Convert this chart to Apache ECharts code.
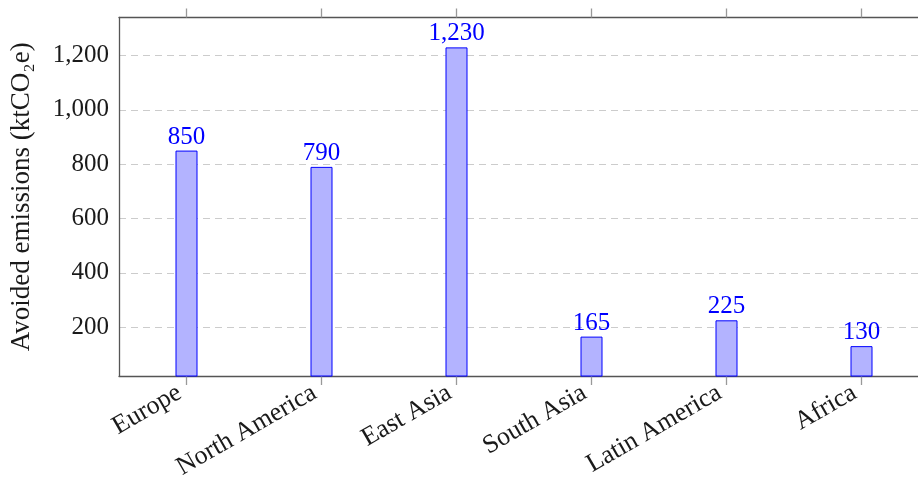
<!DOCTYPE html>
<html>
<head>
<meta charset="utf-8">
<script src="https://cdn.jsdelivr.net/npm/echarts@6/dist/echarts.min.js"></script>
<style>html,body{margin:0;padding:0;background:#fff;overflow:hidden;width:918px;height:477px;}#c{width:929px;height:477px;}</style>
</head>
<body>
<div id="c"></div>
<script>
const categories = ['Europe', 'North America', 'East Asia', 'South Asia', 'Latin America', 'Africa'];
const emissions = [850, 790, 1230, 165, 225, 130];
const yMin = 20;
const yMax = 1340;

const FONT = '"Liberation Serif", "DejaVu Serif", serif';
const fmt = v => Number(v).toLocaleString('en-US');

const chart = echarts.init(document.getElementById('c'), null, {renderer: 'canvas'});
chart.setOption({
  animation: false,
  backgroundColor: '#ffffff',
  grid: {left: 119, top: 17.5, right: 0, bottom: 101, containLabel: false, outerBoundsMode: 'none'},
  xAxis: [{
    type: 'category',
    data: categories,
    position: 'bottom',
    boundaryGap: true,
    axisLine: {show: true, lineStyle: {color: '#555555', width: 1.3}},
    axisTick: {show: true, alignWithLabel: true, inside: false, length: 9, lineStyle: {color: '#999999', width: 1.3}},
    axisLabel: {rotate: 30, margin: 11, padding: [0, 8, 0, 0], fontFamily: FONT, fontSize: 26, color: '#1a1a1a', interval: 0},
    splitLine: {show: false}
  }, {
    type: 'category',
    data: categories,
    position: 'top',
    boundaryGap: true,
    axisLine: {show: true, lineStyle: {color: '#555555', width: 1.3}},
    axisTick: {show: true, alignWithLabel: true, inside: false, length: 9, lineStyle: {color: '#999999', width: 1.3}},
    axisLabel: {show: false},
    splitLine: {show: false}
  }],
  yAxis: {
    type: 'value',
    min: yMin,
    max: yMax,
    splitNumber: 6,
    name: 'Avoided emissions (ktCO₂e)',
    nameLocation: 'middle',
    nameRotate: 90,
    nameGap: 84,
    nameTextStyle: {fontFamily: FONT, fontSize: 27, color: '#1a1a1a'},
    axisLine: {show: true, lineStyle: {color: '#555555', width: 1.3}},
    axisTick: {show: false},
    axisLabel: {
      showMinLabel: false, showMaxLabel: false,
      margin: 10, fontFamily: FONT, fontSize: 25, color: '#1a1a1a',
      formatter: v => (v % 200 === 0 ? fmt(v) : '')
    },
    splitLine: {show: true, lineStyle: {color: '#cccccc', width: 1, type: [7, 5]}}
  },
  series: [{
    type: 'bar',
    data: emissions,
    barWidth: 22,
    itemStyle: {color: '#b3b3ff', borderColor: '#0000ff', borderWidth: 1},
    label: {show: true, position: 'top', distance: 1, fontFamily: FONT, fontSize: 25, color: '#0000ff', formatter: p => fmt(p.value)}
  }]
});
</script>
</body>
</html>
